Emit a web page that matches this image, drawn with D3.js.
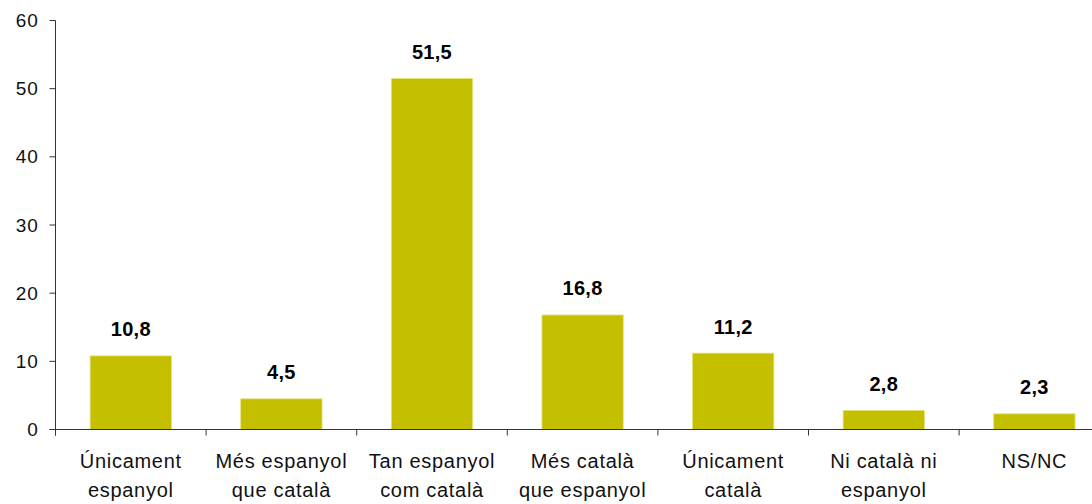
<!DOCTYPE html>
<html><head><meta charset="utf-8">
<script src="https://cdn.jsdelivr.net/npm/d3@7"></script>
<style>body{margin:0;background:#fff}svg{display:block}text{font-family:"Liberation Sans",Arial,sans-serif}</style>
</head><body>
<svg id="c" width="1092" height="504"></svg>
<script>
const categories = [["Únicament","espanyol"],["Més espanyol","que català"],["Tan espanyol","com català"],["Més català","que espanyol"],["Únicament","català"],["Ni català ni","espanyol"],["NS/NC"]];
const values = [10.8, 4.5, 51.5, 16.8, 11.2, 2.8, 2.3];
const valueLabels = ["10,8","4,5","51,5","16,8","11,2","2,8","2,3"];
const yTicks = [0,10,20,30,40,50,60];

const svg = d3.select("#c");
const x0 = 55.5, step = 150.6;
const x = d3.scaleBand().domain(d3.range(categories.length)).range([x0, x0 + step*categories.length]).paddingInner(0.46).paddingOuter(0.23);
const y = d3.scaleLinear().domain([0,60]).range([429.5, 20.5]);
const col = "#c4c000";

// bars
svg.selectAll("rect.bar").data(values).join("rect").attr("class","bar")
  .attr("x",(d,i)=>x(i)).attr("width",x.bandwidth())
  .attr("y",d=>y(d)).attr("height",d=>y(0)-y(d))
  .attr("fill",col).attr("stroke","#e4e27a").attr("stroke-width",0.8);

// value labels
svg.selectAll("text.val").data(values).join("text").attr("class","val")
  .attr("x",(d,i)=>x(i)+x.bandwidth()/2).attr("y",d=>y(d)-19.5)
  .attr("text-anchor","middle").attr("font-weight","bold").attr("font-size","20px").attr("letter-spacing","0.3px").attr("fill","#000")
  .text((d,i)=>valueLabels[i]);

// y axis
const ya = svg.append("g");
ya.append("line").attr("x1",x0).attr("x2",x0).attr("y1",y(60)).attr("y2",y(0)+6).attr("stroke","#333").attr("stroke-width",1);
ya.selectAll("line.t").data(yTicks).join("line").attr("class","t")
  .attr("x1",x0-6).attr("x2",x0).attr("y1",d=>y(d)).attr("y2",d=>y(d)).attr("stroke","#333");
ya.selectAll("text").data(yTicks).join("text")
  .attr("x",x0-17).attr("y",d=>y(d)).attr("dy","0.35em").attr("text-anchor","end")
  .attr("font-size","19px").attr("letter-spacing","0.8px").attr("fill","#111").text(d=>d);

// x axis
const xa = svg.append("g");
xa.append("line").attr("x1",x0).attr("x2",x0+step*categories.length).attr("y1",y(0)).attr("y2",y(0)).attr("stroke","#333");
xa.selectAll("line.t").data(d3.range(categories.length+1)).join("line").attr("class","t")
  .attr("x1",i=>x0+i*step).attr("x2",i=>x0+i*step).attr("y1",y(0)).attr("y2",y(0)+6).attr("stroke","#333");
const lab = xa.selectAll("text").data(categories).join("text")
  .attr("x",(d,i)=>x(i)+x.bandwidth()/2).attr("y",468).attr("text-anchor","middle")
  .attr("font-size","20px").attr("letter-spacing","0.7px").attr("fill","#111");
lab.selectAll("tspan").data(d=>d).join("tspan")
  .attr("x",function(){return this.parentNode.getAttribute("x");})
  .attr("dy",(d,i)=>i===0?0:29).text(d=>d);
</script>
</body></html>
